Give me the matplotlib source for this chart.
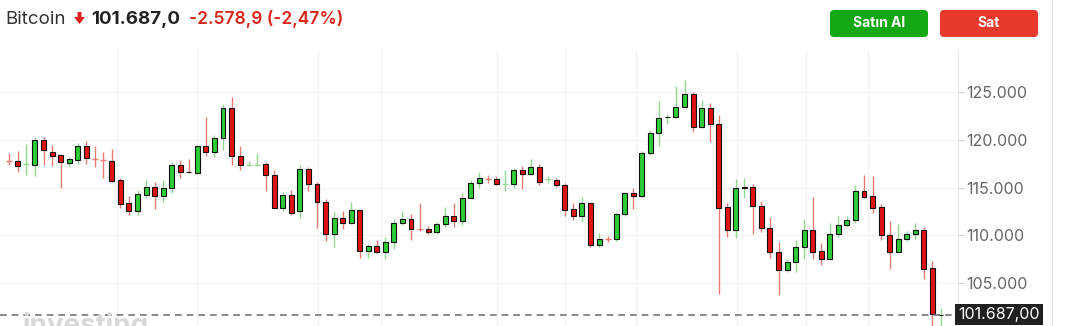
import numpy as np
import matplotlib.pyplot as plt
from matplotlib.patches import FancyBboxPatch, Polygon
from matplotlib.transforms import IdentityTransform

plt.rcParams['font.family'] = ['Inter', 'DejaVu Sans']

# daily candles, values in thousands of USD
opens = [117.8, 117.8, 117.45, 117.4, 120.0, 118.75, 118.4, 117.6, 117.9, 119.4,
         118.0, 117.9, 117.8, 115.8, 113.35, 112.5, 114.2, 115.1, 114.1, 115.0,
         117.4, 116.65, 116.5, 119.35, 118.75, 120.15, 123.35, 118.3, 117.4, 117.4,
         117.45, 116.3, 112.9, 114.25, 112.55, 116.95, 115.4, 113.5, 110.1, 111.85,
         111.25, 112.6, 108.35, 108.85, 108.2, 109.25, 111.3, 111.7, 110.66, 110.65,
         110.3, 111.15, 112.05, 111.5, 113.95, 115.5, 115.91, 115.9, 115.34, 115.35,
         116.85, 116.4, 117.1, 115.84, 115.8, 115.25, 112.7, 112.0, 113.35, 109.0,
         109.61, 109.6, 112.2, 114.4, 114.1, 118.6, 120.7, 122.35, 122.4, 123.45,
         124.8, 121.35, 123.35, 121.7, 113.0, 110.6, 115.0, 115.1, 113.1, 110.8,
         108.2, 106.35, 107.2, 108.75, 110.5, 108.35, 107.5, 110.1, 111.05, 111.65,
         114.65, 114.1, 113.0, 110.05, 108.3, 109.6, 110.1, 110.5, 106.55, 101.62]
highs = [118.6, 118.8, 119.6, 120.3, 120.3, 119.5, 118.5, 118.2, 119.7, 119.9,
         119.3, 118.75, 119.0, 116.0, 114.1, 114.7, 115.8, 115.6, 115.8, 117.7,
         117.85, 118.0, 119.4, 122.35, 120.5, 123.7, 124.5, 119.3, 117.75, 118.65,
         117.65, 116.8, 114.55, 114.7, 117.4, 117.15, 115.6, 113.8, 112.5, 112.55,
         113.5, 112.6, 109.1, 109.5, 109.85, 111.75, 112.55, 112.2, 113.4, 111.0,
         111.4, 113.0, 113.4, 114.4, 115.8, 116.65, 116.3, 116.2, 116.85, 117.0,
         117.3, 117.95, 117.5, 116.2, 116.0, 115.45, 113.35, 114.05, 113.35, 110.25,
         109.9, 112.35, 114.55, 114.9, 118.8, 121.0, 124.05, 122.75, 125.65, 126.3,
         125.05, 124.15, 123.8, 122.6, 113.35, 115.85, 115.95, 115.35, 113.6, 111.95,
         109.25, 107.5, 109.5, 111.7, 114.05, 109.15, 111.3, 112.0, 112.0, 115.25,
         116.3, 116.2, 113.25, 111.5, 111.2, 110.4, 111.3, 110.85, 107.35, 102.4]
lows = [117.4, 116.6, 116.3, 116.2, 117.4, 117.25, 114.9, 117.2, 117.5, 117.5,
        117.1, 116.0, 115.6, 112.9, 112.1, 112.1, 113.9, 112.75, 113.45, 114.4,
        116.0, 116.5, 116.4, 118.3, 118.2, 118.9, 117.35, 116.8, 117.3, 117.3,
        114.6, 112.9, 112.5, 112.1, 111.8, 114.6, 110.8, 109.4, 108.75, 110.7,
        111.15, 107.65, 107.6, 108.1, 107.5, 108.6, 111.1, 109.5, 110.45, 110.1,
        110.1, 110.9, 110.9, 111.1, 113.9, 114.9, 115.5, 115.3, 114.65, 114.9,
        114.85, 116.3, 115.3, 115.5, 115.1, 112.05, 111.6, 111.4, 108.8, 108.8,
        109.3, 109.4, 112.05, 112.8, 114.05, 118.4, 119.3, 121.65, 122.25, 123.4,
        120.85, 121.2, 119.8, 103.9, 109.85, 109.7, 113.95, 110.1, 110.3, 107.65,
        103.7, 106.2, 106.2, 107.5, 107.5, 106.9, 107.4, 109.85, 110.9, 111.3,
        113.95, 112.3, 109.5, 106.45, 108.2, 109.45, 109.6, 105.4, 100.4, 100.4]
closes = [117.79, 117.3, 117.46, 120.0, 118.9, 118.3, 117.7, 118.0, 119.4, 118.05,
          117.99, 117.89, 115.7, 113.3, 112.5, 114.3, 115.1, 114.1, 115.0, 117.4,
          116.65, 116.6, 119.35, 118.7, 120.15, 123.35, 118.3, 117.4, 117.41, 117.41,
          116.3, 112.9, 114.25, 112.35, 116.95, 115.4, 113.45, 110.1, 111.85, 111.25,
          112.6, 108.35, 108.85, 108.2, 109.25, 111.3, 111.7, 110.7, 110.65, 110.3,
          111.15, 112.05, 111.5, 113.95, 115.5, 116.0, 115.9, 115.35, 115.35, 116.85,
          116.4, 117.1, 115.6, 115.85, 115.25, 112.65, 112.0, 113.35, 109.0, 109.6,
          109.6, 112.2, 114.4, 114.1, 118.6, 120.7, 122.3, 122.4, 123.45, 124.8,
          121.35, 123.35, 121.65, 112.9, 110.6, 115.0, 115.07, 113.1, 110.8, 108.2,
          106.35, 107.2, 108.75, 110.5, 108.3, 107.5, 110.15, 111.05, 111.65, 114.65,
          114.05, 112.9, 110.0, 108.3, 109.6, 110.1, 110.6, 106.45, 101.75, 101.687]

last_price = 101.687
price_ticks = [105, 110, 115, 120, 125]
month_lines = [12.6, 22.0, 36.1, 43.5, 57.1, 65.0, 73.3, 85.2, 93.2, 100.5]

GREEN, RED = '#2ecc38', '#e01313'
GREEN_W, RED_W = '#93d98f', '#ea7b74'

fig = plt.figure(figsize=(10.8, 3.26), dpi=100)
ax = fig.add_axes([0, 0, 958 / 1080, 1 - 50 / 326])

o, h, l, c = map(np.array, (opens, highs, lows, closes))
x = np.arange(len(o))
up = c >= o
cross = np.abs(c - o) < 0.03

ax.vlines(x[up], l[up], h[up], color=GREEN_W, lw=1.0, zorder=2)
ax.vlines(x[~up], l[~up], h[~up], color=RED_W, lw=1.0, zorder=2)

box = ~cross
bot = np.minimum(o, c)
hgt = np.abs(c - o)
ax.bar(x[box & up], hgt[box & up], bottom=bot[box & up], width=0.58,
       color=GREEN, edgecolor='#111111', linewidth=0.8, zorder=3)
ax.bar(x[box & ~up], hgt[box & ~up], bottom=bot[box & ~up], width=0.58,
       color=RED, edgecolor='#111111', linewidth=0.8, zorder=3)
ax.hlines(c[cross & up], x[cross & up] - 0.35, x[cross & up] + 0.35, color=GREEN_W, lw=1.0, zorder=3)
ax.hlines(c[cross & ~up], x[cross & ~up] - 0.35, x[cross & ~up] + 0.35, color=RED_W, lw=1.0, zorder=3)

ax.axhline(last_price, color='#777777', lw=1.2, ls=(0, (4, 3)), zorder=4)

ax.set_xlim(-1.09, 111.0)
ax.set_ylim(100.5, 129.4)
ax.set_yticks(price_ticks)
ax.set_yticklabels([f'{v}.000' for v in price_ticks])
ax.yaxis.tick_right()
ax.tick_params(axis='y', length=4, width=0.8, color='#d0d0d0', pad=2,
               labelsize=11.5, labelcolor='#666666')
ax.set_xticks(month_lines)
ax.tick_params(axis='x', length=0, labelbottom=False)
ax.grid(True, color='#f2f2f2', lw=0.8, zorder=0)
for s in ['top', 'left', 'bottom']:
    ax.spines[s].set_visible(False)
ax.spines['right'].set_color('#e6e6e6')

# last price marker on the axis
ax.text(1.0, last_price, '101.687,00', transform=ax.get_yaxis_transform(),
        ha='left', va='center', fontsize=11.5, color='white', zorder=6,
        bbox=dict(boxstyle='square,pad=0.2', fc='#202020', ec='none'))

# right border of the widget
fig.add_artist(plt.Line2D([1052 / 1080, 1052 / 1080], [0, 1], color='#e6e6e6', lw=1))

# header
fig.text(5 / 1080, 1 - 19 / 326, 'Bitcoin', fontsize=13.5, color='#333333', va='center')
fig.add_artist(Polygon([[77.5, 326 - 12], [81.5, 326 - 12], [81.5, 326 - 17], [85, 326 - 17],
                        [79.5, 326 - 24], [74, 326 - 17], [77.5, 326 - 17]],
                       closed=True, fc='#e0221b', ec='none', transform=IdentityTransform()))
fig.text(91 / 1080, 1 - 19 / 326, '101.687,0', fontsize=13.5, color='#222222',
         fontweight='bold', va='center')
fig.text(189 / 1080, 1 - 19 / 326, '-2.578,9 (-2,47%)', fontsize=12.5, color='#d9261c',
         fontweight='semibold', va='center')

for x0, w, col, lab in [(830, 98, '#13a814', 'Satın Al'), (940, 98, '#e8392d', 'Sat')]:
    fig.add_artist(FancyBboxPatch((x0, 326 - 37), w, 27, boxstyle='round,pad=0,rounding_size=4',
                                  fc=col, ec='none', transform=IdentityTransform()))
    fig.text((x0 + w / 2) / 1080, 1 - 23 / 326, lab, fontsize=10, color='white',
             fontweight='bold', ha='center', va='center')

# watermark peeking in at the bottom
fig.text(22 / 1080, -13 / 326, 'investing', fontsize=20, color='#d8d8d8',
         fontweight='bold', va='bottom')

fig.savefig('out.png', dpi=100)
